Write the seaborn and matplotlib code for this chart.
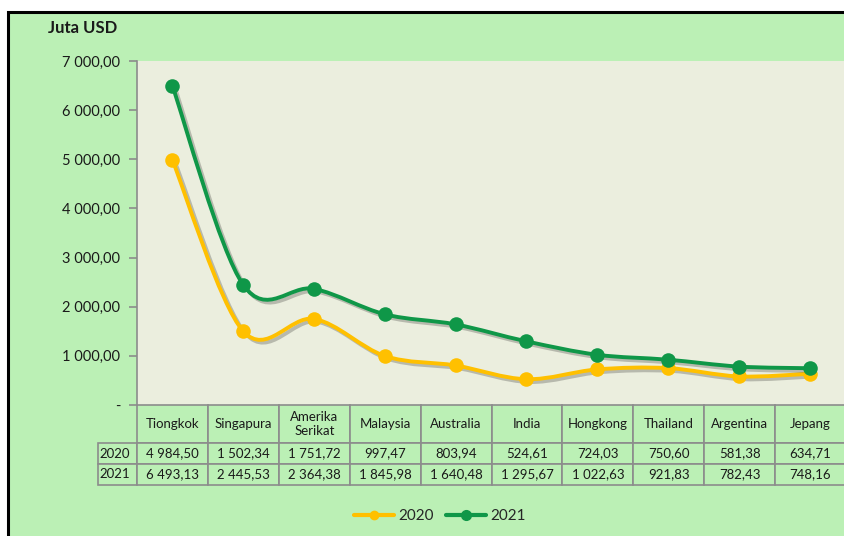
import numpy as np
import matplotlib
matplotlib.use("Agg")
import matplotlib.pyplot as plt
import seaborn as sns
from matplotlib.path import Path
from matplotlib.patches import PathPatch, Rectangle
from matplotlib.lines import Line2D
from matplotlib.ticker import FuncFormatter
import matplotlib.patheffects as pe

countries = ["Tiongkok", "Singapura", "Amerika\nSerikat", "Malaysia", "Australia",
             "India", "Hongkong", "Thailand", "Argentina", "Jepang"]
val_2020 = [4984.50, 1502.34, 1751.72, 997.47, 803.94, 524.61, 724.03, 750.60, 581.38, 634.71]
val_2021 = [6493.13, 2445.53, 2364.38, 1845.98, 1640.48, 1295.67, 1022.63, 921.83, 782.43, 748.16]
years = ["2020", "2021"]

GREEN_BG = "#bbf0b5"
PLOT_BG = "#ebeede"
C2020 = "#ffc000"
C2021 = "#0f9748"


def fmt_num(v, pos=None):
    if v == 0:
        return "-"
    return f"{v:,.2f}".replace(",", " ").replace(".", ",")


def smooth_path(xs, ys):
    # Catmull-Rom -> cubic Bezier, like Excel's smoothed line
    pts = np.column_stack([xs, ys]).astype(float)
    n = len(pts)
    verts = [pts[0]]
    codes = [Path.MOVETO]
    for i in range(n - 1):
        p0 = pts[i - 1] if i > 0 else pts[i]
        p1 = pts[i]
        p2 = pts[i + 1]
        p3 = pts[i + 2] if i + 2 < n else pts[i + 1]
        c1 = p1 + (p2 - p0) / 6.0
        c2 = p2 - (p3 - p1) / 6.0
        verts += [c1, c2, p2]
        codes += [Path.CURVE4] * 3
    return Path(verts, codes)


sns.set_theme(style="white")
plt.rcParams["font.family"] = ["Lato", "DejaVu Sans"]

fig = plt.figure(figsize=(8.45, 5.36), dpi=100)
fig.patch.set_facecolor("white")
fig.patches.append(Rectangle((8 / 845, -0.05), 1.0, (536 - 12) / 536 + 0.05,
                             transform=fig.transFigure, facecolor=GREEN_BG,
                             edgecolor="black", linewidth=2.2, zorder=-10))

ax = fig.add_axes([137 / 845, (536 - 405) / 536, (845 - 137) / 845, (405 - 61) / 536])
ax.set_facecolor(PLOT_BG)

x = np.arange(len(countries))
for vals, col in [(val_2020, C2020), (val_2021, C2021)]:
    patch = PathPatch(smooth_path(x, vals), fill=False, edgecolor=col, linewidth=2.8,
                      capstyle="round", joinstyle="round", zorder=3,
                      path_effects=[pe.SimpleLineShadow(offset=(2, -2), shadow_color="black", alpha=0.22),
                                    pe.Normal()])
    ax.add_patch(patch)
    sns.scatterplot(x=x, y=vals, ax=ax, color=col, s=110, edgecolor=col, linewidth=0, zorder=4)

ax.set_xlim(-0.5, len(countries) - 0.5)
ax.set_ylim(0, 7000)
ax.set_yticks(np.arange(0, 7001, 1000))
ax.yaxis.set_major_formatter(FuncFormatter(fmt_num))
ax.set_xticks([])
ax.tick_params(axis="y", left=True, length=6, width=1.2, color="#8c8c8c",
               labelsize=10.5, labelcolor="#1a1a1a", pad=6)
for s in ["top", "right", "bottom"]:
    ax.spines[s].set_visible(False)
ax.spines["left"].set_color("#8c8c8c")
ax.spines["left"].set_linewidth(1.2)

# data table
cell_text = [[years[0]] + [fmt_num(v) for v in val_2020],
             [years[1]] + [fmt_num(v) for v in val_2021]]
ax_w = 845 - 137
ax_h = 405 - 61
col_w = [39] + [70.8] * len(countries)
tbl = ax.table(cellText=cell_text, colLabels=[""] + countries, colWidths=col_w,
               cellLoc="center",
               bbox=[(98 - 137) / ax_w, -80 / ax_h, (846 - 98) / ax_w, 80 / ax_h])
tbl.auto_set_font_size(False)
for (r, c), cell in tbl.get_celld().items():
    cell.set_facecolor(GREEN_BG)
    cell.set_edgecolor("#8c8c8c")
    cell.set_linewidth(1.2)
    cell.set_height(38 if r == 0 else 21)
    cell.get_text().set_fontsize(9.5)
    cell.get_text().set_color("#1a1a1a")
    if r == 0 and c == 0:
        cell.visible_edges = ""
    if c == 0 and r > 0:
        cell.get_text().set_ha("left")
        cell.PAD = 0.03

fig.text(48 / 845, (536 - 28) / 536, "Juta USD", fontsize=12, fontweight="bold",
         color="#1a1a1a", va="center", ha="left")

handles = [Line2D([], [], color=C2020, lw=3, marker="o", markersize=6),
           Line2D([], [], color=C2021, lw=3, marker="o", markersize=7)]
fig.legend(handles, years, loc="center", bbox_to_anchor=(440 / 845, (536 - 516) / 536),
           ncol=2, frameon=False, fontsize=11, handlelength=2.6, columnspacing=0.8,
           handletextpad=0.3)

fig.savefig("out.png", dpi=100, facecolor=fig.get_facecolor())
